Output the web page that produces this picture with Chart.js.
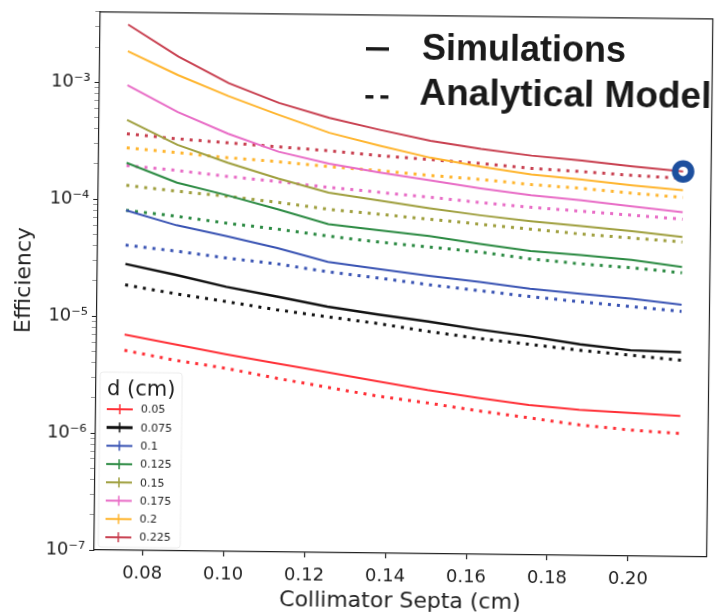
<!DOCTYPE html>
<html>
<head>
<meta charset="utf-8">
<script src="https://cdn.jsdelivr.net/npm/chart.js@4.4.1/dist/chart.umd.min.js"></script>
<style>
  html, body { margin: 0; padding: 0; background: #fff; overflow: hidden; width: 716px; height: 615px; }
  #wrap { position: absolute; left: 0; top: 0; width: 724px; height: 615px;
          transform: rotate(0.66deg); transform-origin: 358px 307px; }
  canvas { display: block; }
</style>
</head>
<body>
<div id="wrap"><canvas id="c" width="724" height="615"></canvas></div>
<script>
// Collimator septa thickness (cm)
const septa = [0.075, 0.0875, 0.1, 0.1125, 0.125, 0.1375, 0.15, 0.1625, 0.175, 0.1875, 0.2, 0.2125];

// Hole diameter d (cm)
const dLabels = ['0.05', '0.075', '0.1', '0.125', '0.15', '0.175', '0.2', '0.225'];
const dColors = ['#ff2f36', '#111111', '#3953b3', '#2b8a42', '#9f9f3e', '#e86cc6', '#ffb52e', '#c83f4f'];

// Efficiency from simulations
const sim005  = [7.01e-6, 5.83e-6, 4.85e-6, 4.12e-6, 3.49e-6, 2.96e-6, 2.51e-6, 2.18e-6, 1.92e-6, 1.76e-6, 1.68e-6, 1.60e-6];
const sim0075 = [2.81e-5, 2.29e-5, 1.83e-5, 1.53e-5, 1.27e-5, 1.10e-5, 9.69e-6, 8.38e-6, 7.40e-6, 6.40e-6, 5.76e-6, 5.60e-6];
const sim01   = [8.08e-5, 6.09e-5, 4.97e-5, 3.98e-5, 3.06e-5, 2.70e-5, 2.38e-5, 2.14e-5, 1.89e-5, 1.73e-5, 1.59e-5, 1.43e-5];
const sim0125 = [2.06e-4, 1.41e-4, 1.11e-4, 8.53e-5, 6.43e-5, 5.79e-5, 5.21e-5, 4.51e-5, 3.98e-5, 3.72e-5, 3.41e-5, 3.01e-5];
const sim015  = [4.79e-4, 2.97e-4, 2.11e-4, 1.56e-4, 1.20e-4, 1.04e-4, 9.01e-5, 7.94e-5, 7.15e-5, 6.56e-5, 6.02e-5, 5.41e-5];
const sim0175 = [9.49e-4, 5.66e-4, 3.73e-4, 2.65e-4, 2.12e-4, 1.80e-4, 1.56e-4, 1.35e-4, 1.19e-4, 1.09e-4, 9.81e-5, 8.83e-5];
const sim02   = [1.85e-3, 1.17e-3, 7.83e-4, 5.47e-4, 3.89e-4, 3.05e-4, 2.44e-4, 2.07e-4, 1.79e-4, 1.64e-4, 1.48e-4, 1.36e-4];
const sim0225 = [3.13e-3, 1.69e-3, 1.01e-3, 6.92e-4, 5.21e-4, 4.17e-4, 3.40e-4, 2.94e-4, 2.60e-4, 2.39e-4, 2.15e-4, 1.97e-4];

// Efficiency from the analytical model
const ana005  = [5.13e-6, 4.27e-6, 3.69e-6, 3.07e-6, 2.60e-6, 2.21e-6, 1.95e-6, 1.69e-6, 1.49e-6, 1.31e-6, 1.20e-6, 1.13e-6];
const ana0075 = [1.86e-5, 1.58e-5, 1.37e-5, 1.18e-5, 1.04e-5, 9.21e-6, 7.97e-6, 7.03e-6, 6.33e-6, 5.69e-6, 5.22e-6, 4.79e-6];
const ana01   = [4.07e-5, 3.66e-5, 3.23e-5, 2.91e-5, 2.52e-5, 2.26e-5, 2.00e-5, 1.80e-5, 1.62e-5, 1.48e-5, 1.36e-5, 1.25e-5];
const ana0125 = [8.08e-5, 7.27e-5, 6.41e-5, 5.77e-5, 5.09e-5, 4.58e-5, 4.20e-5, 3.85e-5, 3.40e-5, 3.12e-5, 2.92e-5, 2.68e-5];
const ana015  = [1.32e-4, 1.19e-4, 1.09e-4, 9.78e-5, 8.63e-5, 7.92e-5, 7.26e-5, 6.66e-5, 6.11e-5, 5.61e-5, 5.25e-5, 4.91e-5];
const ana0175 = [1.95e-4, 1.79e-4, 1.61e-4, 1.47e-4, 1.33e-4, 1.22e-4, 1.12e-4, 1.02e-4, 9.40e-5, 8.79e-5, 8.23e-5, 7.70e-5];
const ana02   = [2.77e-4, 2.54e-4, 2.33e-4, 2.18e-4, 2.00e-4, 1.87e-4, 1.72e-4, 1.61e-4, 1.47e-4, 1.38e-4, 1.27e-4, 1.18e-4];
const ana0225 = [3.64e-4, 3.34e-4, 3.12e-4, 2.92e-4, 2.73e-4, 2.51e-4, 2.35e-4, 2.20e-4, 2.02e-4, 1.92e-4, 1.80e-4, 1.72e-4];

const simSeries = [sim005, sim0075, sim01, sim0125, sim015, sim0175, sim02, sim0225];
const anaSeries = [ana005, ana0075, ana01, ana0125, ana015, ana0175, ana02, ana0225];

// Highlighted operating point (thickest hole, thickest septa)
const highlightPoint = { x: septa[septa.length - 1], y: sim0225[sim0225.length - 1] };

// Axis ticks and texts
const xTicks = [0.08, 0.10, 0.12, 0.14, 0.16, 0.18, 0.20];
const yDecadeExp = [-7, -6, -5, -4, -3, -2];
const xTitle = 'Collimator Septa (cm)';
const yTitle = 'Efficiency';
const legendTitle = 'd (cm)';
const styleKey = ['Simulations', 'Analytical Model'];

const SUP = { '-': '\u207B', '0': '\u2070', '1': '\u00B9', '2': '\u00B2', '3': '\u00B3', '4': '\u2074',
              '5': '\u2075', '6': '\u2076', '7': '\u2077', '8': '\u2078', '9': '\u2079' };
const powLabel = e => '10' + String(e).split('').map(c => SUP[c]).join('');

const datasets = [];
dLabels.forEach((lab, i) => {
  datasets.push({
    label: lab,
    data: septa.map((x, j) => ({ x, y: simSeries[i][j] })),
    borderColor: dColors[i], borderWidth: i === 1 ? 2.4 : 2,
    pointRadius: 0, tension: 0, fill: false, order: 2
  });
  datasets.push({
    label: lab + ' model',
    data: septa.map((x, j) => ({ x, y: anaSeries[i][j] })),
    borderColor: dColors[i], borderWidth: 3, borderDash: [3, 6],
    pointRadius: 0, tension: 0, fill: false, order: 3
  });
});
datasets.push({
  label: 'highlight',
  data: [highlightPoint],
  showLine: false,
  pointRadius: 8, pointBorderWidth: 6.5,
  pointBorderColor: '#1d4f9e', pointBackgroundColor: 'rgba(0,0,0,0)',
  order: 0
});

// Top and right spines
const framePlugin = {
  id: 'frame',
  afterDraw(chart) {
    const { ctx, chartArea: a } = chart;
    ctx.save();
    ctx.strokeStyle = '#222';
    ctx.lineWidth = 1.2;
    ctx.beginPath();
    ctx.moveTo(a.left, a.top); ctx.lineTo(a.right, a.top); ctx.lineTo(a.right, a.bottom);
    ctx.stroke();
    ctx.restore();
  }
};

// Line-style key in the upper right
const keyPlugin = {
  id: 'styleKey',
  afterDraw(chart) {
    const { ctx, chartArea: a } = chart;
    const hx = a.left + 266;
    ctx.save();
    ctx.strokeStyle = '#1a1a1a';
    ctx.lineWidth = 3.5;
    ctx.beginPath();
    ctx.moveTo(hx, a.top + 34); ctx.lineTo(hx + 23, a.top + 34);
    ctx.moveTo(hx, a.top + 82); ctx.lineTo(hx + 8, a.top + 82);
    ctx.moveTo(hx + 15, a.top + 82); ctx.lineTo(hx + 23, a.top + 82);
    ctx.stroke();
    ctx.fillStyle = '#1a1a1a';
    ctx.textAlign = 'left';
    ctx.textBaseline = 'alphabetic';
    ctx.font = 'bold 36px "Liberation Sans"';
    ctx.fillText(styleKey[0], a.left + 322, a.top + 44);
    ctx.font = 'bold 37px "Liberation Sans"';
    ctx.fillText(styleKey[1], a.left + 320, a.top + 89);
    ctx.restore();
  }
};

// Legend of hole diameters in the lower left
const dLegendPlugin = {
  id: 'dLegend',
  afterDraw(chart) {
    const { ctx, chartArea: a } = chart;
    ctx.save();
    const bx = a.left + 4, by = a.bottom - 178, bw = 82, bh = 175;
    ctx.fillStyle = 'rgba(255,255,255,0.85)';
    ctx.strokeStyle = '#ececec';
    ctx.lineWidth = 1;
    ctx.beginPath();
    ctx.roundRect(bx, by, bw, bh, 3);
    ctx.fill(); ctx.stroke();

    ctx.fillStyle = '#222';
    ctx.textAlign = 'left';
    ctx.textBaseline = 'middle';
    ctx.font = '21px "DejaVu Sans"';
    ctx.fillText(legendTitle, a.left + 11, a.bottom - 160);
    ctx.font = '11px "DejaVu Sans"';
    dLabels.forEach((lab, i) => {
      const y = a.bottom - 141 + i * 18.3;
      const x0 = a.left + 11, x1 = a.left + 37, xm = (x0 + x1) / 2;
      ctx.strokeStyle = dColors[i];
      ctx.lineWidth = i === 1 ? 3 : 2;
      ctx.beginPath();
      ctx.moveTo(x0, y); ctx.lineTo(x1, y);
      ctx.stroke();
      ctx.lineWidth = 1.5;
      ctx.beginPath();
      ctx.moveTo(xm, y - 5); ctx.lineTo(xm, y + 5);
      ctx.stroke();
      ctx.fillStyle = '#222';
      ctx.fillText(lab, a.left + 45, y + 0.5);
    });
    ctx.restore();
  }
};

Chart.defaults.font.family = '"DejaVu Sans"';
Chart.defaults.color = '#222';

new Chart(document.getElementById('c'), {
  type: 'line',
  data: { datasets },
  options: {
    responsive: false,
    animation: false,
    devicePixelRatio: 1,
    layout: { padding: { top: 11, right: 2, bottom: 0, left: 0 } },
    plugins: { legend: { display: false }, tooltip: { enabled: false } },
    scales: {
      x: {
        type: 'linear',
        min: 0.0681, max: 0.2194,
        afterFit: s => { s.height = 62; },
        afterBuildTicks: s => { s.ticks = xTicks.map(v => ({ value: v })); },
        ticks: { callback: v => v.toFixed(2), font: { size: 18 }, color: '#222', padding: 8, autoSkip: false, maxRotation: 0 },
        grid: { drawOnChartArea: false, drawTicks: true, tickLength: 5, tickColor: '#222', tickWidth: 1.2 },
        border: { display: true, color: '#222', width: 1.2 },
        title: { display: true, text: xTitle, font: { size: 22 }, color: '#222', padding: { top: 0, bottom: 1 } }
      },
      y: {
        type: 'logarithmic',
        min: 1e-7, max: 4.0e-3,
        afterFit: s => { s.width = 97; },
        afterBuildTicks: s => {
          const t = [];
          yDecadeExp.forEach(e => {
            for (let m = 1; m <= 9; m++) {
              const v = m * Math.pow(10, e);
              if (v >= s.min * 0.9999 && v <= s.max * 1.0001) t.push({ value: v, major: m === 1 });
            }
          });
          s.ticks = t;
        },
        ticks: {
          autoSkip: false, font: { size: 18 }, color: '#222', padding: 4,
          callback: (v, i, ticks) => ticks[i].major ? powLabel(Math.round(Math.log10(v))) : ''
        },
        grid: {
          drawOnChartArea: false, drawTicks: true, tickLength: 5, tickWidth: 1,
          tickColor: ctx => (ctx.tick && ctx.tick.major) ? '#222' : '#9a9a9a'
        },
        border: { display: true, color: '#222', width: 1.2 },
        title: { display: true, text: yTitle, font: { size: 22 }, color: '#222', padding: { top: 11, bottom: 0 } }
      }
    }
  },
  plugins: [framePlugin, keyPlugin, dLegendPlugin]
});
</script>
</body>
</html>
